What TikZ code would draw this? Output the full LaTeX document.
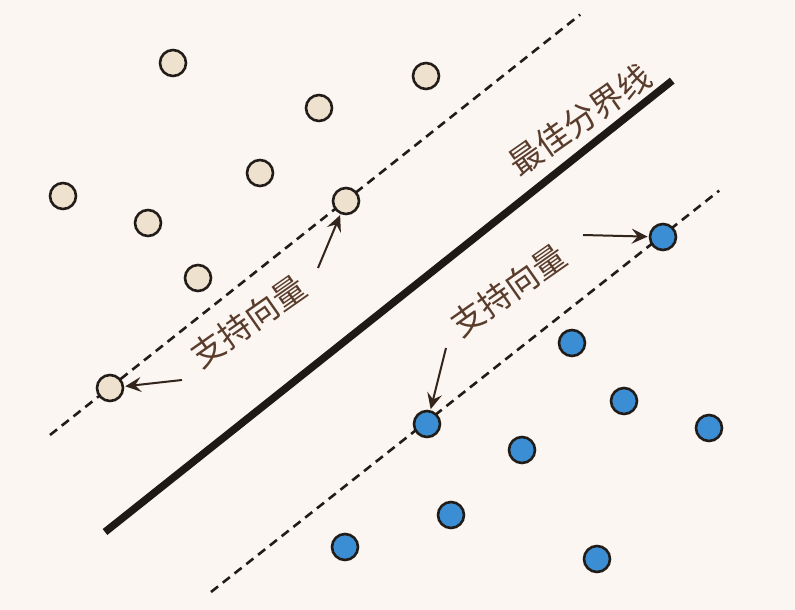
\documentclass[tikz,border=0pt]{standalone}
\usepackage{fontspec}
\newfontfamily\cjk{Noto Sans CJK SC}
\usetikzlibrary{arrows.meta}
\definecolor{paper}{HTML}{FBF6F1}
\definecolor{ring}{HTML}{221C18}
\definecolor{sand}{HTML}{EEE1CE}
\definecolor{dotblue}{HTML}{3B8ED3}
\definecolor{inkbrown}{HTML}{5A3C2C}
\definecolor{arrowbrown}{HTML}{33241C}

\begin{document}
\begin{tikzpicture}[x=1pt,y=-1pt,>={Stealth[length=16pt,width=15pt,inset=6pt]},shorten >=1pt,
                    pos node/.style={circle,draw=ring,fill=sand,line width=2.6pt,minimum size=26pt,inner sep=0pt},
                    neg node/.style={pos node,fill=dotblue},
                    tag/.style={font=\cjk\fontsize{33}{33}\selectfont,text=inkbrown,rotate=35,inner sep=0pt},
                    margin/.style={dash pattern=on 9pt off 6pt,line width=2.6pt,color=ring}]
                \fill[paper] (0,0) rectangle (795,610);
                \useasboundingbox (0,0) rectangle (795,610);

                % margins and separating line
                \coordinate (U0) at (50,435);
                \coordinate (U1) at (581,14);
                \coordinate (L0) at (211,592);
                \coordinate (L1) at (720,190);
                \coordinate (H0) at (105,532);
                \coordinate (H1) at (673,80);
                \draw[margin] (U0) -- (U1);
                \draw[margin] (L0) -- (L1);
                \draw[line width=7.5pt,color=ring!90!black] (H0) -- (H1);

                % first class
                \node[pos node] (P1) at (173,63) {};
                \node[pos node] (P2) at (426,76) {};
                \node[pos node] (P3) at (319,108) {};
                \node[pos node] (P4) at (260,173) {};
                \node[pos node] (P5) at (63,196) {};
                \node[pos node] (P6) at (148,223) {};
                \node[pos node] (P7) at (198,278) {};
                \node[pos node] (P8) at (346,201) {};
                \node[pos node] (P9) at (110,388) {};

                % second class
                \node[neg node] (N1) at (663,237) {};
                \node[neg node] (N2) at (572,343) {};
                \node[neg node] (N3) at (624,401) {};
                \node[neg node] (N4) at (709,428) {};
                \node[neg node] (N5) at (427,424) {};
                \node[neg node] (N6) at (522,450) {};
                \node[neg node] (N7) at (451,515) {};
                \node[neg node] (N8) at (597,559) {};
                \node[neg node] (N9) at (345,547) {};

                % labels
                \node[tag] (best) at (580,120) {最佳分界线};
                \node[tag] (svup) at (248,321) {支持向量};
                \node[tag] (svlow) at (508,290) {支持向量};

                \coordinate (A1) at (182,380);
                \coordinate (A2) at (318,268);
                \coordinate (A3) at (583,235);
                \coordinate (A4) at (446,348);
                \path[->,line width=2pt,color=arrowbrown]
                    (A1) edge (P9)
                    (A2) edge (P8)
                    (A3) edge (N1)
                    (A4) edge (N5);
                \end{tikzpicture}
\end{document}
